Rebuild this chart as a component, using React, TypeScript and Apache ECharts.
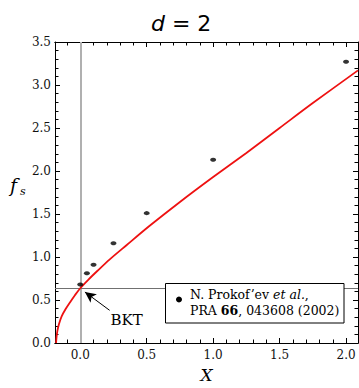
import React, { useEffect, useRef } from "react";
import * as echarts from "echarts";

// Reference curve
const curveX = [-0.182, -0.179, -0.172, -0.16, -0.14, -0.11, -0.075, -0.04, 0, 0.06, 0.13, 0.22, 0.35, 0.52, 0.75, 1.0, 1.25, 1.5, 1.75, 2.09];
const curveY = [0, 0.06, 0.14, 0.22, 0.31, 0.395, 0.478, 0.556, 0.637, 0.735, 0.84, 0.97, 1.14, 1.36, 1.64, 1.93, 2.21, 2.5, 2.79, 3.17];

// Prokof'ev et al. data points
const pointX = [0, 0.05, 0.1, 0.25, 0.5, 1, 2];
const pointY = [0.68, 0.81, 0.91, 1.16, 1.51, 2.13, 3.27];

// Reference lines
const bktX = 0;
const bktY = 0.637;

// Axis ticks
const xMajor = [0, 0.5, 1, 1.5, 2];
const xMinor = [-0.1, 0.1, 0.2, 0.3, 0.4, 0.6, 0.7, 0.8, 0.9, 1.1, 1.2, 1.3, 1.4, 1.6, 1.7, 1.8, 1.9, 2.0];
const xRange = [-0.19, 2.09];
const yRange = [0, 3.5];

// Annotation
const arrowHead = [0.035, 0.593];
const arrowTail = [0.221, 0.38];
const bktLabelAt = [0.228, 0.272];

const SERIF = "DejaVu Serif";

export default function App() {
  const ref = useRef<HTMLDivElement>(null);
  useEffect(() => {
    const chart = echarts.init(ref.current!, null, { renderer: "svg" });
    const tickLabel = { fontFamily: SERIF, fontSize: 12, color: "#111" };
    const axisLine = { show: true, onZero: false, lineStyle: { color: "#000", width: 1 } };
    const mkX = (pos: string, values: number[], len: number, labels: boolean, name?: string) => ({
      type: "value",
      position: pos,
      min: xRange[0],
      max: xRange[1],
      axisLine,
      axisTick: { show: true, inside: true, length: len, customValues: values, lineStyle: { color: "#000" } },
      axisLabel: labels
        ? { show: true, customValues: xMajor, formatter: (v: number) => v.toFixed(1), margin: 6, ...tickLabel }
        : { show: false },
      splitLine: { show: false },
      name: name,
      nameLocation: "middle",
      nameGap: 23,
      nameTextStyle: { fontFamily: SERIF, fontStyle: "italic", fontSize: 17, color: "#000" },
    });
    const mkY = (pos: string, labels: boolean) => ({
      type: "value",
      position: pos,
      min: yRange[0],
      max: yRange[1],
      interval: 0.5,
      axisLine,
      axisTick: { show: true, inside: true, length: 5, lineStyle: { color: "#000" } },
      minorTick: { show: true, splitNumber: 5, length: 3.5, lineStyle: { color: "#000" } },
      axisLabel: labels
        ? { show: true, formatter: (v: number) => v.toFixed(1), margin: 4, ...tickLabel }
        : { show: false },
      splitLine: { show: false },
    });
    chart.setOption({
      animation: false,
      title: {
        text: "{i|d} = 2",
        left: 146,
        top: 7,
        textStyle: {
          fontFamily: "DejaVu Sans",
          fontSize: 22,
          fontWeight: "normal",
          color: "#000",
          rich: { i: { fontFamily: "DejaVu Sans", fontStyle: "italic", fontSize: 22, color: "#000" } },
        },
      },
      grid: { left: 55, right: 1, top: 42, bottom: 43.5, containLabel: false },
      xAxis: [
        mkX("bottom", xMajor, 5, true, "X"),
        mkX("bottom", xMinor, 3.5, false),
        mkX("top", xMajor, 5, false),
        mkX("top", xMinor, 3.5, false),
      ],
      yAxis: [mkY("left", true), mkY("right", false)],
      series: [
        {
          type: "line",
          name: "theory",
          xAxisIndex: 0,
          yAxisIndex: 0,
          data: curveX.map((x, i) => [x, curveY[i]]),
          smooth: 0.3,
          showSymbol: false,
          lineStyle: { color: "#ee1111", width: 1.8 },
          z: 3,
          markLine: {
            silent: true,
            symbol: "none",
            label: { show: false },
            z: 1,
            data: [
              { xAxis: bktX, lineStyle: { color: "#b0b0b0", width: 2, type: "solid" } },
              { yAxis: bktY, lineStyle: { color: "#707070", width: 1, type: "solid" } },
            ],
          },
        },
        {
          type: "scatter",
          name: "N. Prokof'ev et al., PRA 66, 043608 (2002)",
          xAxisIndex: 0,
          yAxisIndex: 0,
          data: pointX.map((x, i) => [x, pointY[i]]),
          symbol: "circle",
          symbolSize: [6, 4],
          itemStyle: { color: "#000" },
          z: 4,
          markLine: {
            silent: true,
            symbol: ["arrow", "none"],
            symbolSize: [8, 11],
            label: { show: false },
            lineStyle: { color: "#000", width: 1, type: "solid" },
            data: [[{ coord: arrowHead }, { coord: arrowTail }]],
          },
          markPoint: {
            silent: true,
            symbol: "circle",
            symbolSize: 0,
            data: [
              {
                coord: bktLabelAt,
                label: {
                  show: true,
                  formatter: "BKT",
                  position: [0, 0],
                  align: "left",
                  verticalAlign: "middle",
                  fontFamily: SERIF,
                  fontSize: 15,
                  color: "#000",
                },
              },
            ],
          },
        },
      ],
      graphic: [
        {
          type: "text",
          left: 10,
          top: 175,
          z: 10,
          style: { text: "f", fontFamily: SERIF, fontStyle: "italic", fontSize: 19, fill: "#000" },
        },
        {
          type: "text",
          left: 20,
          top: 186,
          z: 10,
          style: { text: "s", fontFamily: SERIF, fontStyle: "italic", fontSize: 11, fill: "#000" },
        },
        {
          type: "rect",
          z: 100,
          shape: { x: 165.5, y: 283.5, width: 178.5, height: 39.5 },
          style: { fill: "#fff", stroke: "#000", lineWidth: 1 },
        },
        {
          type: "circle",
          z: 101,
          shape: { cx: 179, cy: 299.5, r: 3 },
          style: { fill: "#000" },
        },
        {
          type: "text",
          z: 101,
          x: 190,
          y: 286,
          style: {
            text: "{n|N. Prokof’ev }{i|et al.}{n|,}\n{n|PRA }{b|66}{n|, 043608 (2002)}",
            fill: "#000",
            rich: {
              n: { fontFamily: SERIF, fontSize: 12.5, lineHeight: 16.5, fill: "#000" },
              i: { fontFamily: SERIF, fontSize: 12.5, lineHeight: 16.5, fontStyle: "italic", fill: "#000" },
              b: { fontFamily: SERIF, fontSize: 12.5, lineHeight: 16.5, fontWeight: "bold", fill: "#000" },
            },
          },
        },
      ],
    });
    return () => chart.dispose();
  }, []);
  return <div ref={ref} style={{ position: "absolute", left: 0, top: 0, width: 359, height: 388 }} />;
}
